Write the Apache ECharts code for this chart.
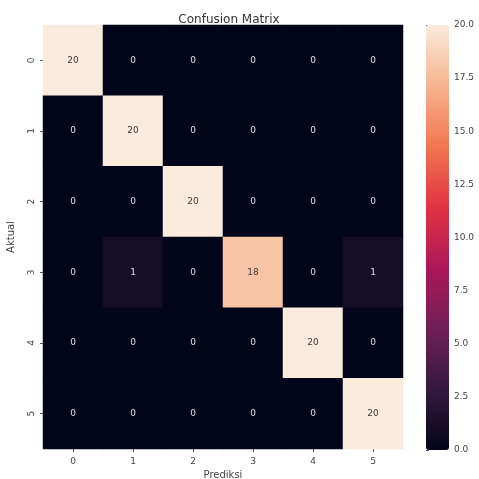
<!DOCTYPE html>
<html>
<head>
<meta charset="utf-8">
<script src="https://cdn.jsdelivr.net/npm/echarts@6/dist/echarts.min.js"></script>
<style>html,body{margin:0;padding:0;background:#fff}#c{width:479px;height:479px}</style>
</head>
<body>
<div id="c"></div>
<script>
const predLabels = ['0','1','2','3','4','5'];
const actualLabels = ['0','1','2','3','4','5'];
const matrix = [
  [20, 0, 0, 0, 0, 0],
  [0, 20, 0, 0, 0, 0],
  [0, 0, 20, 0, 0, 0],
  [0, 1, 0, 18, 0, 1],
  [0, 0, 0, 0, 20, 0],
  [0, 0, 0, 0, 0, 20]
];
const colorbarTicks = [0, 2.5, 5, 7.5, 10, 12.5, 15, 17.5, 20];
const rocket = ['#03051a','#35193e','#701f57','#ad1759','#e13342','#f37651','#f6b48f','#faebdd'];

const data = [];
matrix.forEach((row, r) => row.forEach((v, c) => {
  data.push({value: [c, r, v], label: {color: v > 10 ? '#3a3a3a' : '#e0e0e0'}});
}));

const font = 'DejaVu Sans';
const chart = echarts.init(document.getElementById('c'));
chart.setOption({
  animation: false,
  textStyle: {fontFamily: font},
  title: {text: 'Confusion Matrix', left: 224, top: 9, textAlign: 'center',
    textStyle: {fontFamily: font, fontSize: 12, fontWeight: 'normal', color: '#333'}},
  grid: [
    {left: 43, top: 25, width: 360, height: 424, outerBoundsMode: 'none', containLabel: false},
    {left: 426, top: 25, width: 23, height: 425, outerBoundsMode: 'none', containLabel: false}
  ],
  xAxis: [
    {type: 'category', data: predLabels, gridIndex: 0, name: 'Prediksi', nameLocation: 'middle', nameGap: 20,
     nameTextStyle: {fontFamily: font, fontSize: 10, color: '#444'},
     axisLine: {show: false}, axisTick: {show: true, alignWithLabel: true, length: 3, lineStyle: {color: '#555'}},
     axisLabel: {fontFamily: font, fontSize: 9, color: '#444', margin: 8}, splitLine: {show: false}},
    {type: 'value', gridIndex: 1, show: false, min: 0, max: 1}
  ],
  yAxis: [
    {type: 'category', data: actualLabels, gridIndex: 0, inverse: true, name: 'Aktual', nameLocation: 'middle', nameGap: 27, nameRotate: 90,
     nameTextStyle: {fontFamily: font, fontSize: 10, color: '#444'},
     axisLine: {show: false}, axisTick: {show: true, alignWithLabel: true, length: 3, lineStyle: {color: '#555'}},
     axisLabel: {fontFamily: font, fontSize: 9, color: '#444', rotate: 90, margin: 7}, splitLine: {show: false}},
    {type: 'value', gridIndex: 1, position: 'right', min: colorbarTicks[0], max: colorbarTicks[colorbarTicks.length-1], interval: 2.5,
     axisLine: {show: false}, axisTick: {show: true, length: 3, lineStyle: {color: '#555'}},
     axisLabel: {fontFamily: font, fontSize: 9, color: '#444', margin: 5, formatter: v => v.toFixed(1)},
     splitLine: {show: false}}
  ],
  visualMap: {
    type: 'continuous', min: 0, max: 20, calculable: false, orient: 'vertical',
    left: 426, top: 25, itemWidth: 23, itemHeight: 425, padding: 0, text: null, showLabel: false,
    inRange: {color: rocket}, seriesIndex: 0, hoverLink: false
  },
  series: [
    {type: 'heatmap', xAxisIndex: 0, yAxisIndex: 0, data: data,
     label: {show: true, fontFamily: font, fontSize: 9},
     itemStyle: {borderWidth: 0}, emphasis: {disabled: true}},
    {type: 'scatter', xAxisIndex: 1, yAxisIndex: 1, data: [], silent: true}
  ]
});
</script>
</body>
</html>
